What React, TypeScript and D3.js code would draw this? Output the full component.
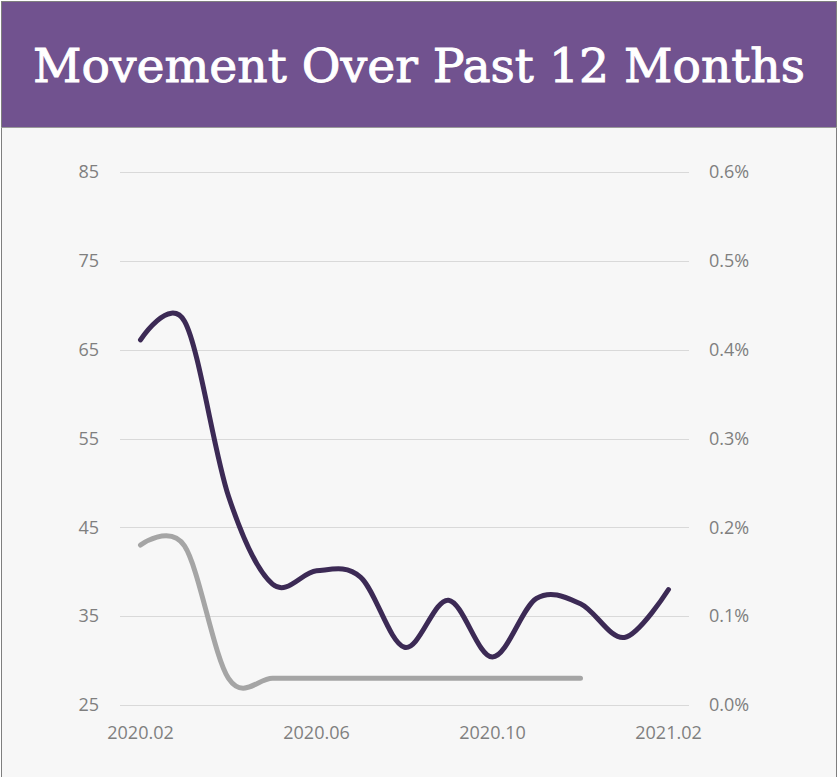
import React, { useEffect, useRef } from 'react';
import * as d3 from 'd3';

const months = ['2020.02', '2020.03', '2020.04', '2020.05', '2020.06', '2020.07', '2020.08',
    '2020.09', '2020.10', '2020.11', '2020.12', '2021.01', '2021.02'];
const tickMonths = ['2020.02', '2020.06', '2020.10', '2021.02'];
// left axis series
const scoreValues = [66.1, 68.2, 48.5, 38.6, 40.1, 39.4, 31.5, 36.8, 30.4, 37.0, 36.4, 32.6, 38.0];
// right axis series (percent), ends at 2020.12
const rateValues = [0.18, 0.179, 0.03, 0.03, 0.03, 0.03, 0.03, 0.03, 0.03, 0.03, 0.03];
const leftTicks = [25, 35, 45, 55, 65, 75, 85];
const rightTicks = [0, 0.1, 0.2, 0.3, 0.4, 0.5, 0.6];

const W = 838;
const H = 777;

export default function App() {
    const ref = useRef<SVGSVGElement>(null);

    useEffect(() => {
        const svg = d3.select(ref.current);
        svg.selectAll('*').remove();

        // frame + header
        svg.append('rect').attr('x', 1.5).attr('y', 1.5).attr('width', W - 3).attr('height', H + 10)
            .attr('fill', '#f7f7f7').attr('stroke', '#7f7f7f').attr('stroke-width', 1);
        svg.append('rect').attr('x', 2).attr('y', 2).attr('width', W - 4).attr('height', 125)
            .attr('fill', '#71528f');
        svg.append('line').attr('x1', 1).attr('x2', W - 1).attr('y1', 127.5).attr('y2', 127.5)
            .attr('stroke', '#9a9a9a');
        svg.append('text')
            .attr('x', 419).attr('y', 82)
            .attr('text-anchor', 'middle')
            .attr('fill', '#ffffff')
            .attr('stroke', '#ffffff')
            .attr('stroke-width', 0.9)
            .attr('font-family', '"DejaVu Serif", serif')
            .attr('font-weight', 'normal')
            .attr('font-size', 46)
            .attr('textLength', 772)
            .attr('lengthAdjust', 'spacingAndGlyphs')
            .text('Movement Over Past 12 Months');

        const x = d3.scalePoint<string>().domain(months).range([120, 689]).padding(0.466);
        const yL = d3.scaleLinear().domain([25, 85]).range([705, 172]);
        const yR = d3.scaleLinear().domain([0, 0.6]).range([705, 172]);

        const font = '"Open Sans", sans-serif';

        // gridlines
        svg.append('g').selectAll('line').data(leftTicks).enter().append('line')
            .attr('x1', 120).attr('x2', 689)
            .attr('y1', d => Math.round(yL(d)) + 0.5).attr('y2', d => Math.round(yL(d)) + 0.5)
            .attr('stroke', '#d9d9d9').attr('stroke-width', 1);

        // left labels
        svg.append('g').selectAll('text').data(leftTicks).enter().append('text')
            .attr('x', 99).attr('y', d => yL(d)).attr('dy', '0.35em')
            .attr('text-anchor', 'end')
            .attr('font-family', font).attr('font-size', 18).attr('fill', '#7f7f7f')
            .text(d => String(d));

        // right labels
        svg.append('g').selectAll('text').data(rightTicks).enter().append('text')
            .attr('x', 709).attr('y', d => yR(d)).attr('dy', '0.35em')
            .attr('font-family', font).attr('font-size', 18).attr('fill', '#7f7f7f')
            .text(d => d.toFixed(1) + '%');

        // x labels
        svg.append('g').selectAll('text').data(tickMonths).enter().append('text')
            .attr('x', d => x(d) as number).attr('y', 733).attr('dy', '0.35em')
            .attr('text-anchor', 'middle')
            .attr('font-family', font).attr('font-size', 18).attr('fill', '#7f7f7f')
            .text(d => d);

        const rateLine = d3.line<number>()
            .x((d, i) => x(months[i]) as number)
            .y(d => yR(d))
            .curve(d3.curveCardinal.tension(0));
        svg.append('path').attr('d', rateLine(rateValues))
            .attr('fill', 'none').attr('stroke', '#a5a5a5').attr('stroke-width', 5)
            .attr('stroke-linecap', 'round').attr('stroke-linejoin', 'round');

        const scoreLine = d3.line<number>()
            .x((d, i) => x(months[i]) as number)
            .y(d => yL(d))
            .curve(d3.curveCardinal.tension(0));
        svg.append('path').attr('d', scoreLine(scoreValues))
            .attr('fill', 'none').attr('stroke', '#3c2a55').attr('stroke-width', 5)
            .attr('stroke-linecap', 'round').attr('stroke-linejoin', 'round');
    }, []);

    return (
        <svg ref={ref} width={W} height={H}
            style={{ position: 'absolute', left: 0, top: 0, display: 'block' }} />
    );
}
